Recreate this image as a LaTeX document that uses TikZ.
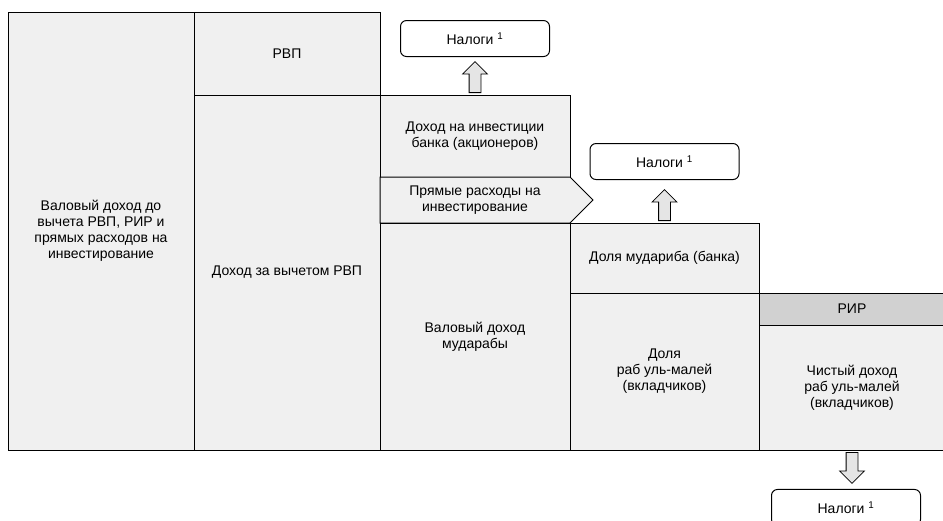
\documentclass[tikz,border=0pt]{standalone}
\usepackage{fontspec}
\setmainfont{Liberation Sans}
\usetikzlibrary{positioning,shapes.symbols,shapes.arrows}

\begin{document}
\begin{tikzpicture}[
    x=1pt, y=-1pt,
    node distance=0pt,
    font=\fontsize{14}{16}\selectfont,
    part/.style={
		rectangle,
		draw=black,
		line width=1pt,
		fill=black!6,
		align=center,
		inner sep=0pt,
		outer sep=0pt
	},
    tax/.style={
		rectangle,
		rounded corners=6pt,
		draw=black,
		line width=1pt,
		fill=white,
		minimum width=149pt,
		minimum height=36pt
	},
    flow/.style={
		single arrow,
		draw=black,
		line width=0.8pt,
		fill=black!10,
		inner xsep=0pt,
		inner ysep=5.5pt,
		single arrow head extend=6.5pt,
		minimum height=31pt
	}
  ]
  \useasboundingbox (0,0) rectangle (943,520);
  \clip (0,0) rectangle (943,520);
    % We start by placing the blocks

  \node [part, minimum width=186pt, minimum height=438pt, anchor=north west] (gross) at (8,12)
 {Валовый доход до\\вычета РВП, РИР и\\прямых расходов на\\инвестирование};

  \node [part, minimum width=186pt, minimum height=83pt, anchor=north west] (rvp) at (gross.north east)
 {РВП};
  \node [part, minimum width=186pt, minimum height=355pt, below=of rvp] (afterrvp)
 {Доход за вычетом РВП};

  \node [part, minimum width=190pt, minimum height=82pt, anchor=north west] (invest) at (rvp.south east)
 {Доход на инвестиции\\банка (акционеров)};
  \node [part, shape=signal, signal to=east, minimum width=213pt, minimum height=46pt,
         below=of invest.south west, anchor=north west] (cost)
 {Прямые расходы на\\инвестирование};
  \node [part, minimum width=190pt, minimum height=227pt, below=of cost.south west, anchor=north west] (muda)
 {Валовый доход\\мударабы};

  \node [part, minimum width=189pt, minimum height=70pt, anchor=north west] (share) at (muda.north east)
 {Доля мудариба (банка)};
  \node [part, minimum width=189pt, minimum height=157pt, below=of share] (depshare)
 {Доля\\раб уль-малей\\(вкладчиков)};

  \node [part, minimum width=186pt, minimum height=32pt, fill=black!18, anchor=north west] (rir) at (depshare.north east)
 {РИР};
  \node [part, minimum width=186pt, minimum height=125pt, below=of rir] (netdep)
 {Чистый доход\\раб уль-малей\\(вкладчиков)};

  % taxes
  \node [flow, rotate=90, anchor=tail] (up1) at ([yshift=2pt]invest.north) {};
  \node [tax, above=4pt of up1.tip] (tax1) {Налоги \textsuperscript{1}};
  \node [flow, rotate=90, anchor=tail] (up2) at ([yshift=2pt]share.north) {};
  \node [tax, above=9pt of up2.tip] (tax2) {Налоги \textsuperscript{1}};
  \node [flow, rotate=-90, anchor=tail] (down3) at ([yshift=-2pt]netdep.south) {};
  \node [tax, below=5pt of down3.tip, xshift=-6pt] (tax3) {Налоги \textsuperscript{1}};

\end{tikzpicture}
\end{document}
